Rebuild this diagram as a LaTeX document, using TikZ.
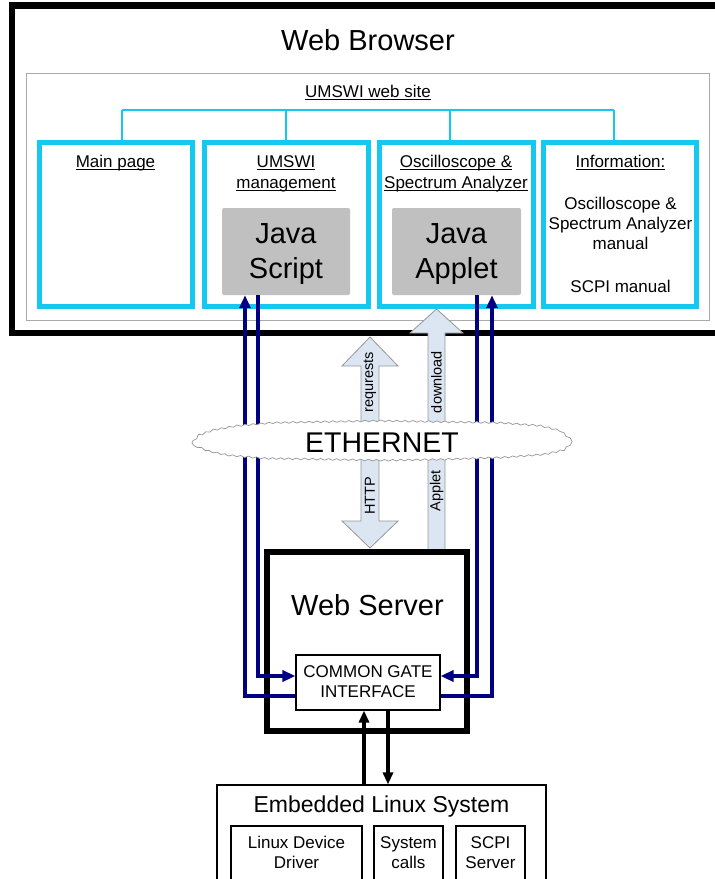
\documentclass[tikz,border=0pt]{standalone}
\usepackage{fontspec}
\setmainfont{Liberation Sans}
\usetikzlibrary{arrows.meta,decorations.pathmorphing}

\definecolor{sitecyan}{RGB}{20,200,240}
\definecolor{linknavy}{RGB}{0,0,128}
\definecolor{appgray}{RGB}{192,192,192}
\definecolor{framegray}{RGB}{170,170,170}
\definecolor{pipefill}{RGB}{220,230,242}
\definecolor{pipeedge}{RGB}{150,150,150}

% underline at a fixed distance below the baseline
\newcommand\ulined[1]{\setbox0=\hbox{#1}\rlap{\vrule height -1.6pt depth 2.5pt width \wd0}\box0}

% multi-line texts are placed by the baseline of their last line
\tikzset{
  browserbox/.style={draw, line width=6.5pt, inner sep=0pt},
  sitebox/.style={draw=framegray, line width=1pt, inner sep=0pt},
  pagebox/.style={draw=sitecyan, line width=5pt, inner sep=0pt},
  appbox/.style={fill=appgray, rounded corners=2pt, inner sep=0pt},
  serverbox/.style={draw, line width=6.5pt, inner sep=0pt},
  plainbox/.style={draw, line width=1.1pt, inner sep=0pt, fill=white},
  tree/.style={draw=sitecyan, line width=1.5pt},
  pipe/.style={fill=pipefill, draw=pipeedge, line width=0.8pt, line join=miter},
  navyline/.style={draw=linknavy, line width=3.5pt, -{Triangle[length=13pt,width=11pt]}},
  blackline/.style={draw=black, line width=3.5pt, -{Triangle[length=12pt,width=10pt]}},
  txt/.style={inner sep=0pt, anchor=base, align=center},
  huge/.style={txt, font=\fontsize{29}{35}\selectfont},
  big/.style={txt, font=\fontsize{23}{28}\selectfont},
  small/.style={txt, font=\fontsize{17}{21}\selectfont},
  info/.style={txt, font=\fontsize{17}{20}\selectfont},
  tiny/.style={inner sep=0pt, font=\fontsize{14.5}{17}\selectfont, rotate=90},
  cloudline/.style={draw=pipeedge, line width=0.7pt, fill=white, line join=round,
    decorate, decoration={snake, amplitude=0.8pt, segment length=8pt}},
}

\begin{document}
\begin{tikzpicture}[x=1pt,y=-1pt]
\useasboundingbox (0,0) rectangle (715,879);
\clip (0,0) rectangle (715,879);

% ---- web browser with the site tree ----
\node[browserbox, minimum width=728pt, minimum height=327.5pt] (browser) at (376,169.25) {};
\node[huge] (browsertitle) at (368,50) {Web Browser};

\node[sitebox, minimum width=683pt, minimum height=247pt] (site) at (367.5,196.5) {};
\node[small] (sitetitle) at (368,97) {\ulined{UMSWI web site}};

\node[pagebox, minimum width=153pt, minimum height=164pt] (mainpage) at (115.5,224.5) {};
\node[pagebox, minimum width=164pt, minimum height=164pt] (mgmt) at (286,224.5) {};
\node[pagebox, minimum width=154pt, minimum height=164pt] (osc) at (456,224.5) {};
\node[pagebox, minimum width=153pt, minimum height=164pt] (infopage) at (620,224.5) {};

\coordinate (hub1) at (122,110);
\coordinate (hub2) at (286,110);
\coordinate (hub3) at (450,110);
\coordinate (hub4) at (614,110);
\draw[tree] (hub1) -- (hub4);
\draw[tree] (hub1) -- (hub1 |- mainpage.north);
\draw[tree] (hub2) -- (hub2 |- mgmt.north);
\draw[tree] (hub3) -- (hub3 |- osc.north);
\draw[tree] (hub4) -- (hub4 |- infopage.north);

\node[small] (maintitle) at (115.5,167) {\ulined{Main page}};
\node[small] (mgmttitle) at (286,188) {\ulined{UMSWI}\\\ulined{management}};
\node[small] (osctitle) at (456,188) {\ulined{Oscilloscope \&}\\\ulined{Spectrum Analyzer}};
\node[small] (infotitle) at (620.5,167) {\ulined{Information:}};
\node[info] (infomanual) at (620.5,249) {Oscilloscope \&\\Spectrum Analyzer\\manual};
\node[info] (infoscpi) at (620.5,292) {SCPI manual};

\node[appbox, minimum width=128pt, minimum height=87pt] (js) at (286,251.5) {};
\node[appbox, minimum width=129pt, minimum height=87pt] (ja) at (456.5,251.5) {};
\node[huge] (jstext) at (286,278) {Java\\Script};
\node[huge] (jatext) at (456.5,278) {Java\\Applet};

% ---- transfer arrows through the network ----
\path[pipe] (361,366) -- (342,366) -- (370,337) -- (398,366) -- (379,366)
  -- (379,521) -- (398,521) -- (370,548) -- (342,521) -- (361,521) -- cycle;
\path[pipe] (428,552) -- (428,333) -- (410,333) -- (436.5,309) -- (463,333)
  -- (445,333) -- (445,552) -- cycle;

% ---- web server ----
\node[serverbox, minimum width=200pt, minimum height=179pt] (server) at (367,641.5) {};
\node[huge] (servertitle) at (367.5,615) {Web Server};

\node[plainbox, minimum width=144pt, minimum height=55pt] (cgi) at (368,682.5) {};
\node[small] (cgitext) at (368,697) {COMMON GATE\\[-1pt]INTERFACE};

% ---- embedded system ----
\node[plainbox, minimum width=329pt, minimum height=130pt] (emb) at (381.5,850) {};
\node[big] (embtitle) at (381.5,812) {Embedded Linux System};
\node[plainbox, minimum width=131pt, minimum height=90pt] (driver) at (296.5,871) {};
\node[plainbox, minimum width=69pt, minimum height=90pt] (syscalls) at (408.5,871) {};
\node[plainbox, minimum width=69pt, minimum height=90pt] (scpi) at (490.5,871) {};
\node[info] (drivertext) at (296.5,868) {Linux Device\\Driver};
\node[info] (syscallstext) at (408.5,868) {System\\calls};
\node[info] (scpitext) at (490.5,868) {SCPI\\Server};

% ---- connectors ----
\draw[navyline] (js.south -| 258,0) -- (258,676) -- (cgi.west |- 0,676);
\draw[navyline] (cgi.west |- 0,696) -- (245,696) -- (js.south -| 245,0);
\draw[navyline] (ja.south -| 477,0) -- (477,676) -- (cgi.east |- 0,676);
\draw[navyline] (cgi.east |- 0,696) -- (492,696) -- (ja.south -| 492,0);

\draw[blackline] (emb.north -| 364,0) -- (cgi.south -| 364,0);
\draw[blackline] (cgi.south -| 388,0) -- (emb.north -| 388,0);

% ---- ethernet cloud ----
\path[cloudline] (192,443) -- (198,436) -- (212,431) -- (235,427) -- (270,424)
  -- (320,423) -- (380,422) -- (440,423) -- (500,424) -- (540,427) -- (560,432)
  -- (571,441) -- (562,449) -- (540,454) -- (500,457) -- (440,459) -- (380,460)
  -- (320,459) -- (260,458) -- (225,455) -- (205,451) -- (195,447) -- cycle;
\node[huge, font=\fontsize{28.5}{34}\selectfont] (ethernet) at (382,452) {ETHERNET};

\node[tiny] (reqlabel) at (370,382) {requrests};
\node[tiny] (httplabel) at (370,496) {HTTP};
\node[tiny] (dllabel) at (436.5,382) {download};
\node[tiny] (appletlabel) at (436.5,491) {Applet};
\end{tikzpicture}
\end{document}
